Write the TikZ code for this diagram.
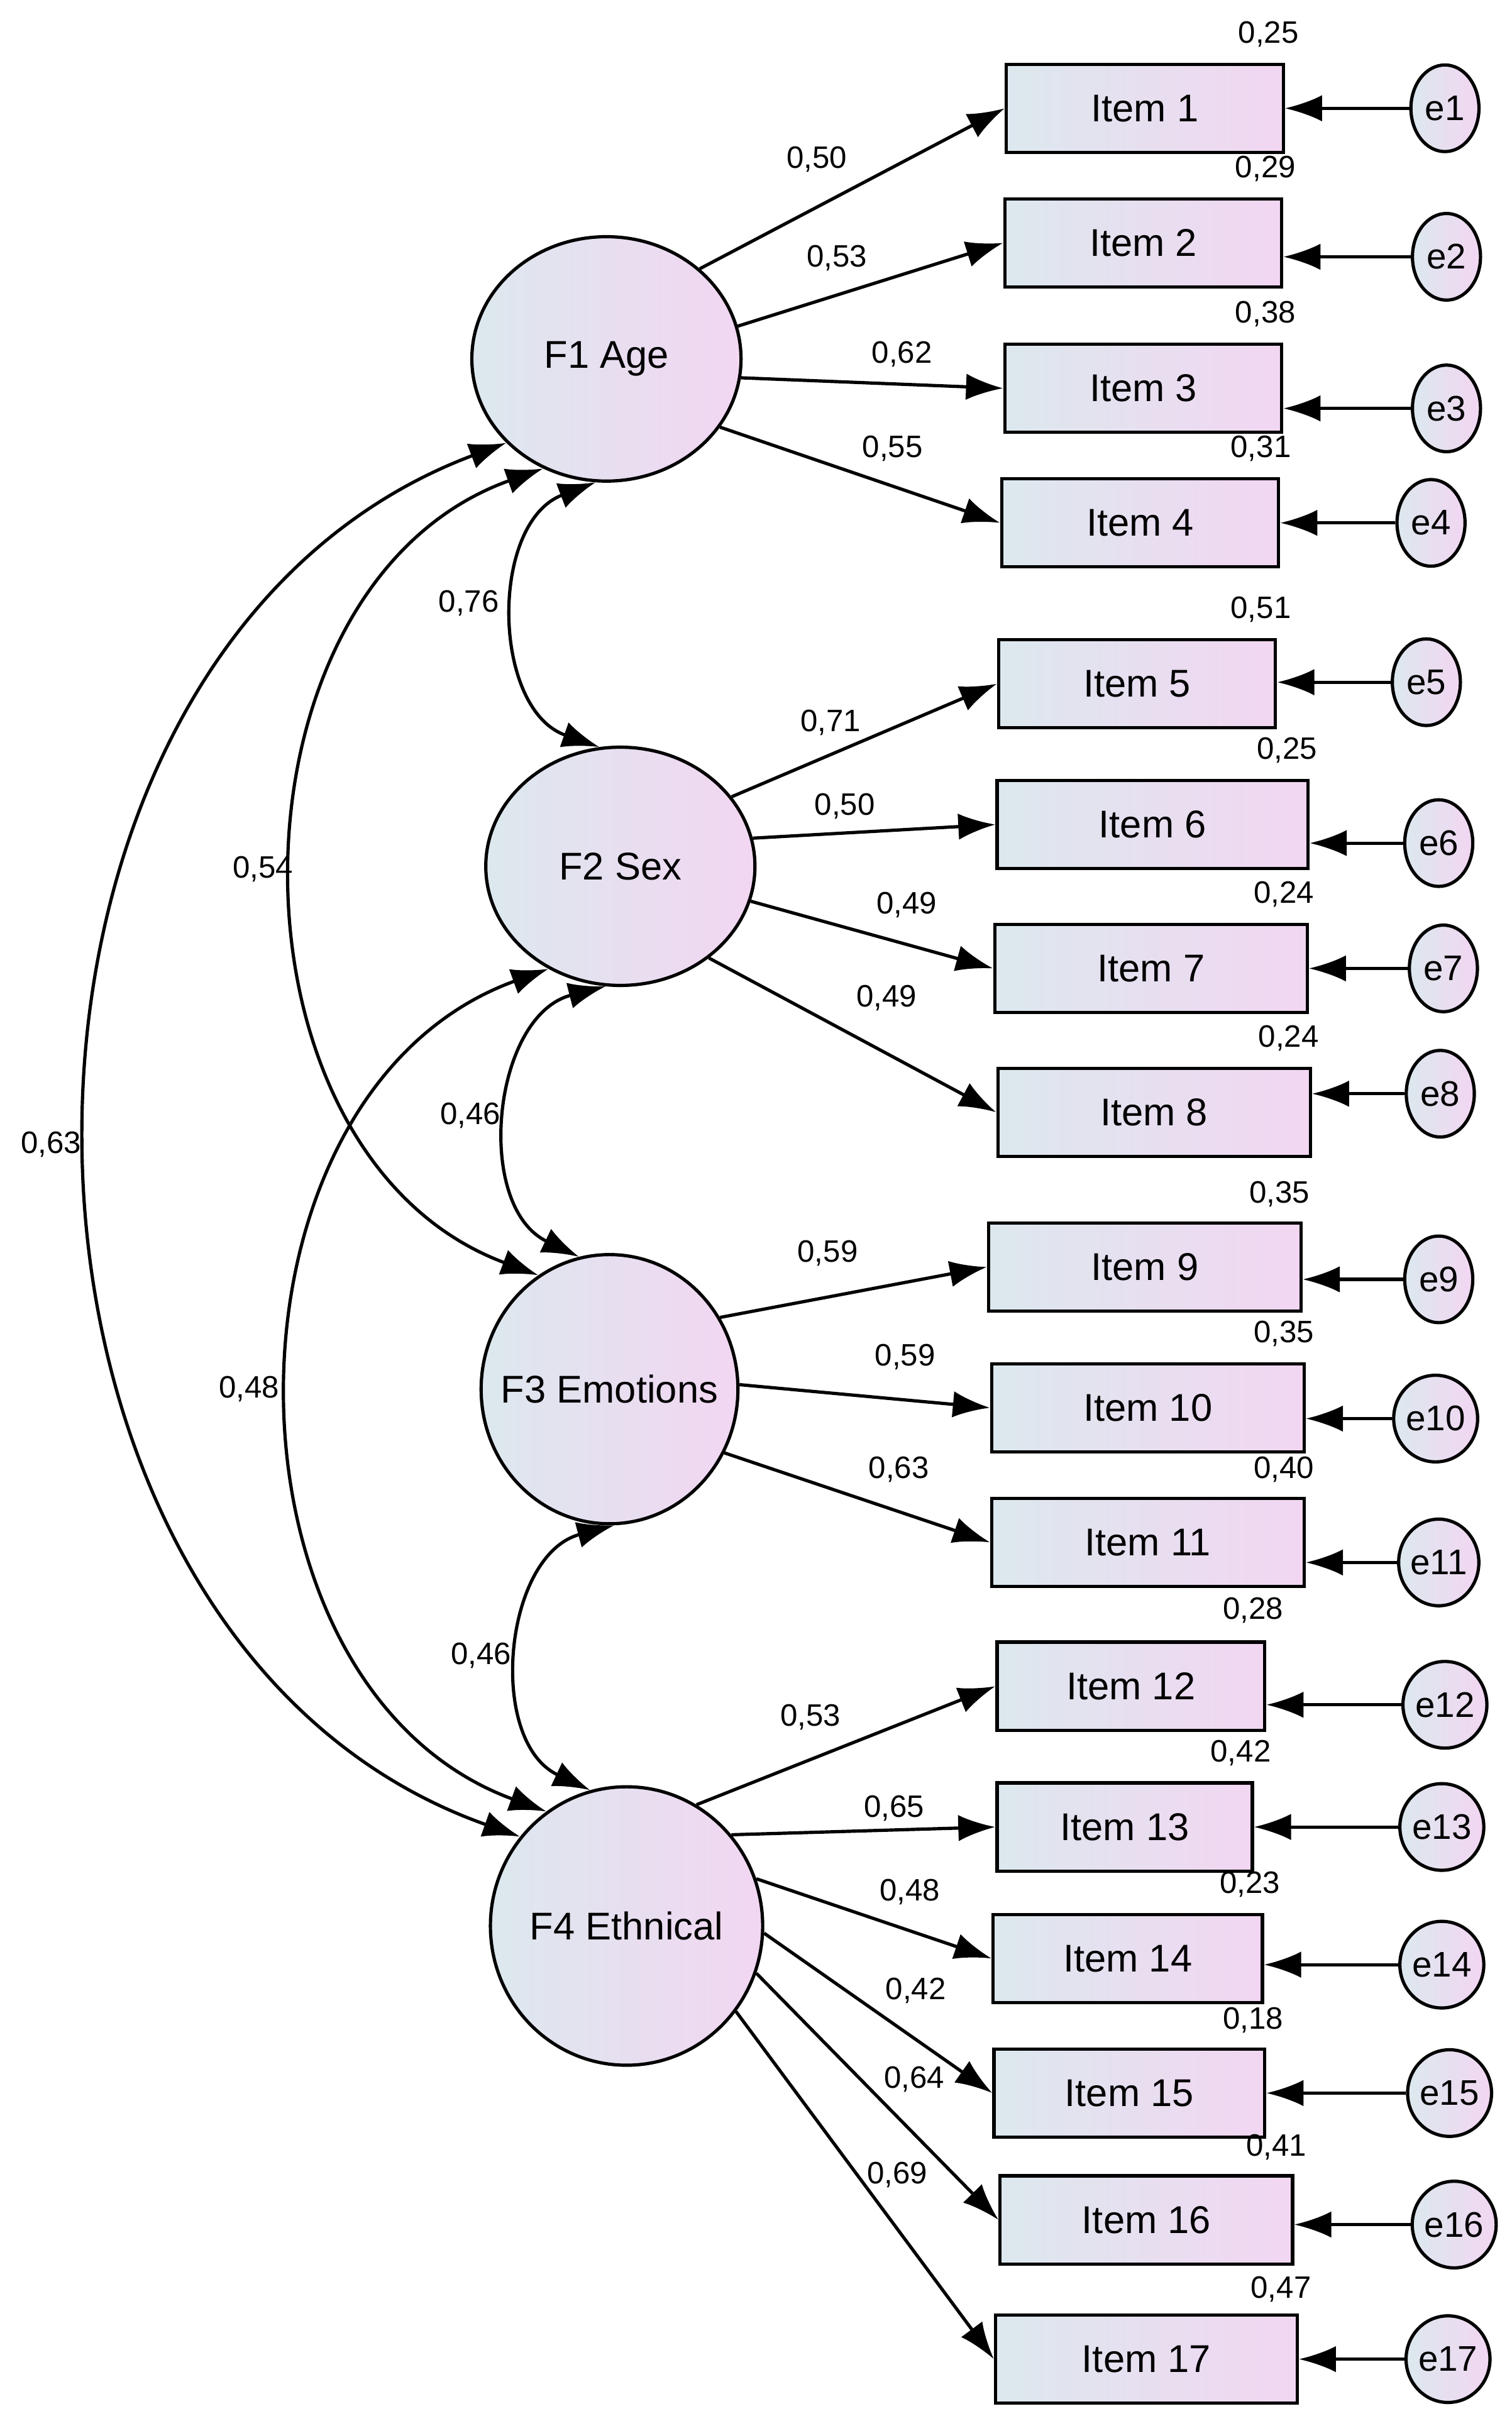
\documentclass[tikz,border=0pt]{standalone}
\usepackage{fontspec}
\setmainfont{Liberation Sans}
\usetikzlibrary{arrows.meta,shapes.geometric}
\definecolor{cl}{RGB}{220,232,238}
\definecolor{cp}{RGB}{242,214,242}
\begin{document}
\begin{tikzpicture}[x=1pt,y=-1pt,line width=2.1pt,
  >={Latex[length=24pt,width=17pt]},
  fac/.style={draw,ellipse,inner sep=0pt,minimum width=174pt,minimum height=158pt,shading angle=135,left color=cl,right color=cp},
  ftxt/.style={font=\fontsize{25}{29}\selectfont},
  item/.style={draw,rectangle,minimum height=57pt,left color=cl,right color=cp,font=\fontsize{25}{29}\selectfont},
  err/.style={draw,ellipse,minimum width=44pt,minimum height=56pt,inner sep=0pt,left color=cl,right color=cp,font=\fontsize{23}{27}\selectfont},
  num/.style={font=\fontsize{20}{23}\selectfont},
  cor/.style={<->,bend right=70,looseness=1.1}]
\useasboundingbox (0,0) rectangle (977,1565);
\node[fac] (F1) at (392,232) {};
\node[fac,minimum width=174pt,minimum height=154pt] (F2) at (401,560) {};
\node[fac,minimum width=166pt,minimum height=174pt] (F3) at (394,898) {};
\node[fac,minimum width=176pt,minimum height=180pt] (F4) at (405,1245) {};
\node[ftxt] (t1) at (F1) {F1 Age};
\node[ftxt] (t2) at (F2) {F2 Sex};
\node[ftxt] (t3) at (F3) {F3 Emotions};
\node[ftxt] (t4) at (F4) {F4 Ethnical};
\foreach \i/\x/\y/\w/\ex/\ey/\v/\vx/\vy in {
1/740/70/179/934/70/{0,25}/820/22,
2/739/157/179/935/166/{0,29}/818/109,
3/739/251/179/935/264/{0,38}/818/203,
4/737/338/179/925/338/{0,31}/815/290,
5/735/442/179/922/441/{0,51}/815/394,
6/745/533/201/930/545/{0,25}/832/485,
7/744/626/202/933/626/{0,24}/830/578,
8/746/719/202/931/707/{0,24}/833/671,
9/740/819/202/930/827/{0,35}/827/772,
10/742/910/202/928/917/{0,35}/830/862,
11/742/997/202/930/1010/{0,40}/830/950,
12/731/1090/173/934/1102/{0,28}/810/1041,
13/727/1181/165/932/1181/{0,42}/802/1133,
14/729/1266/174/932/1270/{0,23}/808/1218,
15/730/1353/175/937/1353/{0,18}/810/1306,
16/741/1435/189/940/1438/{0,41}/825/1388,
17/741/1525/195/936/1525/{0,47}/828/1480}{
  \node[item,minimum width=\w pt] (I\i) at (\x,\y) {Item \i};
  \node[err] (e\i) at (\ex,\ey) {e\i};
  \node[num] (v\i) at (\vx,\vy) {\v};
  \draw[->] (e\i) -- (I\i.east |- e\i);
}
\foreach \f/\a/\i/\l/\lx/\ly in {
F1/44/1/{0,50}/528/103, F1/14/2/{0,53}/541/167, F1/-8/3/{0,62}/583/229, F1/-31/4/{0,55}/577/290,
F2/32/5/{0,71}/537/467, F2/12/6/{0,50}/546/521, F2/-15/7/{0,49}/586/585, F2/-46/8/{0,49}/573/645,
F3/33/9/{0,59}/535/810, F3/2/10/{0,59}/585/877, F3/-29/11/{0,63}/581/950,
F4/60/12/{0,53}/524/1110, F4/41/13/{0,65}/578/1169, F4/20/14/{0,48}/588/1223, F4/-3/15/{0,42}/592/1287,
F4/-20/16/{0,64}/591/1344, F4/-38/17/{0,69}/580/1406}{
  \draw[->] (\f.\a) -- (I\i.west);
  \node[num] (l\i) at (\lx,\ly) {\l};
}
\draw[cor] (F1.-95) to (F2.100);
\draw[cor] (F2.-97) to (F3.103);
\draw[cor] (F3.-88) to (F4.105);
\draw[cor] (F1.-120) to (F3.122);
\draw[cor] (F2.-125) to (F4.125);
\draw[cor] (F1.-140) to (F4.140);
\node[num] (c12) at (303,390) {0,76};
\node[num] (c23) at (304,721) {0,46};
\node[num] (c34) at (311,1070) {0,46};
\node[num] (c13) at (170,562) {0,54};
\node[num] (c24) at (161,898) {0,48};
\node[num] (c14) at (33,740) {0,63};
\end{tikzpicture}
\end{document}
